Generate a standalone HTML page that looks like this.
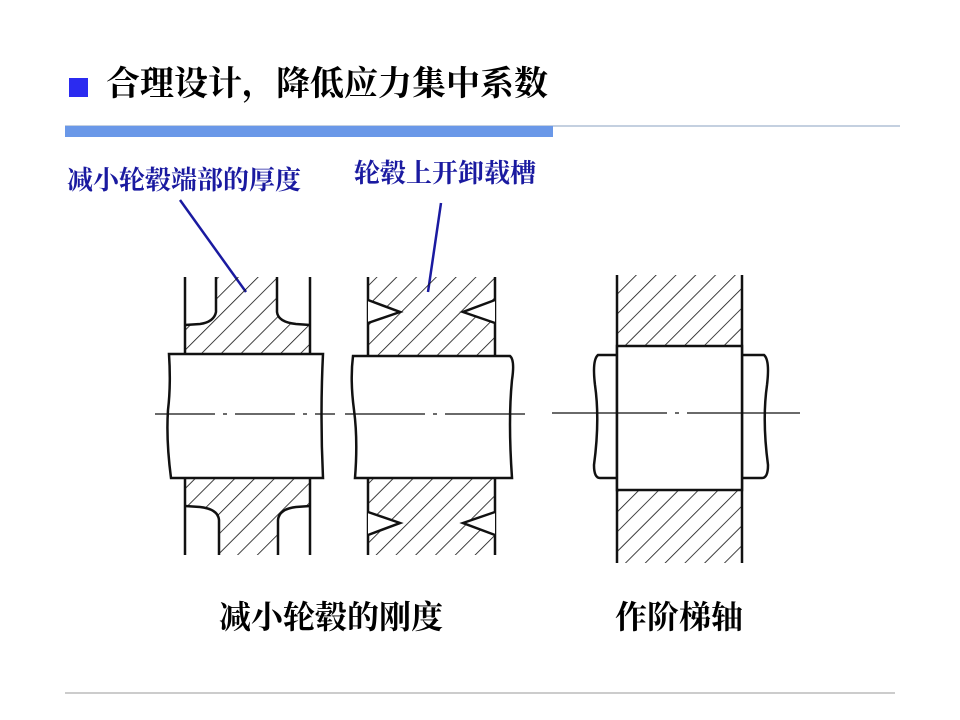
<!DOCTYPE html>
<html><head><meta charset="utf-8"><style>
html,body{margin:0;padding:0;background:#fff;}
body{width:960px;height:720px;position:relative;overflow:hidden;}
.t{position:absolute;white-space:nowrap;font-family:"Liberation Serif","Noto Serif CJK SC","Noto Sans CJK SC",serif;}
</style></head><body>
<svg width="960" height="720" style="position:absolute;left:0;top:0">
<defs>
<pattern id="h" patternUnits="userSpaceOnUse" width="14" height="14" patternTransform="rotate(45)">
<line x1="0" y1="0" x2="0" y2="14" stroke="#111" stroke-width="1.6"/>
</pattern>
</defs>
<rect x="69" y="78" width="19" height="19" fill="#2b2bf0"/>
<line x1="65" y1="126" x2="900" y2="126" stroke="#8aa0c0" stroke-width="1"/>
<rect x="65" y="126" width="488" height="11" fill="#6a98e8"/>
<line x1="65" y1="693" x2="895" y2="693" stroke="#bbb" stroke-width="1.5"/>
<line x1="180" y1="200" x2="246" y2="292" stroke="#1a1aa0" stroke-width="2.5"/>
<line x1="441" y1="203" x2="428" y2="292" stroke="#1a1aa0" stroke-width="2.5"/>
<!-- fills -->
<g stroke="none" fill="url(#h)">
<path d="M216,277 L216,312 Q214,322 200,324 L185,325 L185,354 L310,354 L310,325 L296,324 Q278,322 277,312 L277,277 Z"/>
<path d="M185,478 L185,506 L200,507 Q218,509 219,520 L219,555 L278,555 L278,520 Q279,509 296,507 L310,506 L310,478 Z"/>
<rect x="368" y="277" width="127" height="79"/>
<rect x="368" y="478" width="127" height="77"/>
<rect x="617" y="275" width="125" height="71"/>
<rect x="617" y="490" width="125" height="73"/>
</g>
<g stroke="#111" stroke-width="2.5" fill="none">
<path d="M216,277 L216,312 Q214,322 200,324 L185,325 M277,277 L277,312 Q278,322 296,324 L310,325"/>
<path d="M185,506 L200,507 Q218,509 219,520 L219,555 M310,506 L296,507 Q279,509 278,520 L278,555"/>
<line x1="185" y1="277" x2="185" y2="555"/>
<line x1="310" y1="277" x2="310" y2="555"/>
<path d="M169,354 L323,354 Q320,415 323,478 L171,478 Q166,440 168,410 Q171,385 169,354 Z" fill="#fff"/>
<line x1="368" y1="277" x2="368" y2="555"/>
<line x1="495" y1="277" x2="495" y2="555"/>
<path d="M368,300 L400,312 L368,323" fill="#fff"/>
<path d="M495,300 L463,312 L495,323" fill="#fff"/>
<path d="M368,512 L400,523 L368,535" fill="#fff"/>
<path d="M495,512 L463,523 L495,535" fill="#fff"/>
<path d="M353,356 L510,356 Q515,360 512,380 Q508,420 512,478 L355,478 Q358,440 354,410 Q350,380 353,356 Z" fill="#fff"/>
<line x1="617" y1="275" x2="617" y2="563"/>
<line x1="742" y1="275" x2="742" y2="563"/>
<path d="M617,355 L598,355 Q592,360 595,385 Q600,420 594,465 Q594,478 600,478 L617,478"/>
<path d="M742,355 L764,355 Q770,360 767,385 Q762,420 768,465 Q768,478 762,478 L742,478"/>
<rect x="617" y="346" width="125" height="144" fill="#fff"/>
</g>
<g stroke="#111" stroke-width="1.3">
<line x1="155" y1="414" x2="335" y2="414" stroke-dasharray="60,8,4,8"/>
<line x1="345" y1="414" x2="532" y2="414" stroke-dasharray="80,8,4,8"/>
<line x1="552" y1="413" x2="800" y2="413" stroke-dasharray="115,8,4,8"/>
</g>
</svg>
<div class="t" style="left:106px;top:64px;font-size:34px;line-height:42px;color:#000;font-weight:bold;">合理设计，降低应力集中系数</div>
<div class="t" style="left:67px;top:165px;font-size:26px;line-height:32px;color:#1a1aa0;font-weight:bold;">减小轮毂端部的厚度</div>
<div class="t" style="left:354px;top:158px;font-size:26px;line-height:32px;color:#1a1aa0;font-weight:bold;">轮毂上开卸载槽</div>
<div class="t" style="left:219px;top:598px;font-size:32px;line-height:38px;color:#000;font-weight:bold;">减小轮毂的刚度</div>
<div class="t" style="left:615px;top:598px;font-size:32px;line-height:38px;color:#000;font-weight:bold;">作阶梯轴</div>
</body></html>
